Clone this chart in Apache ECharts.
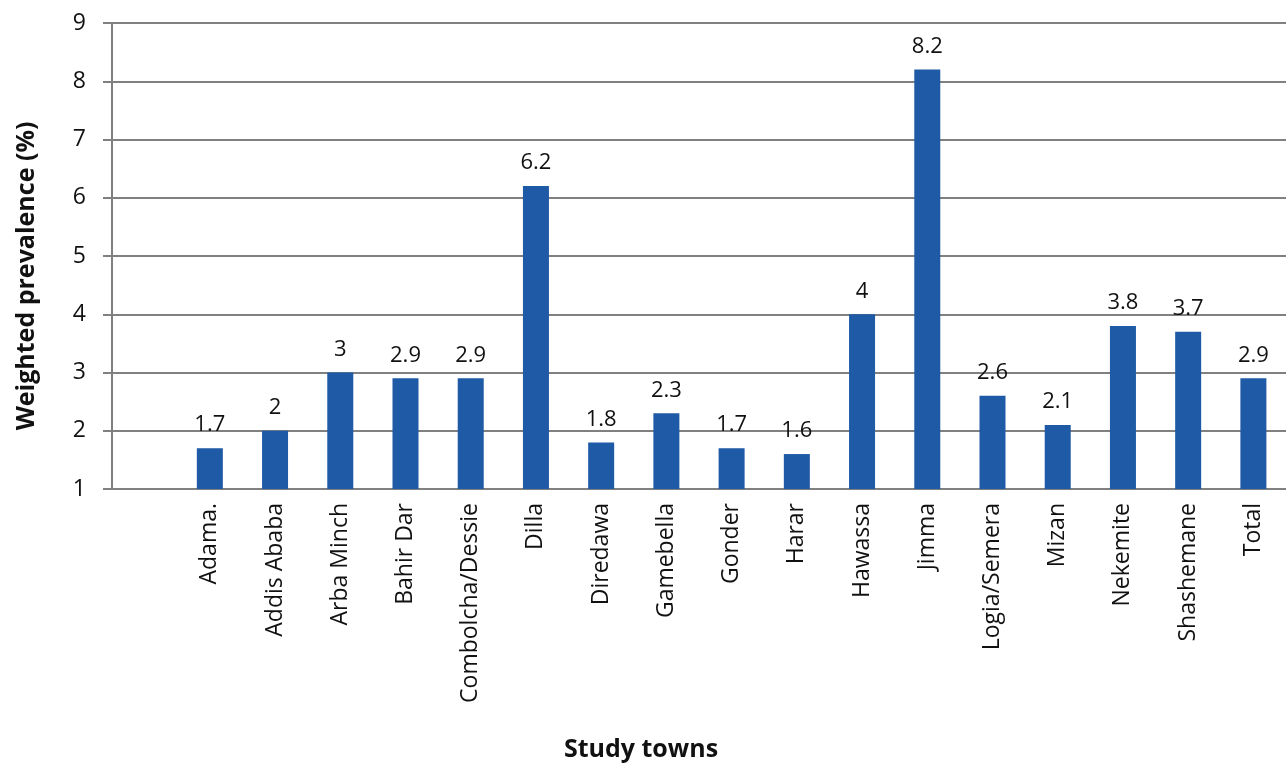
<!DOCTYPE html>
<html>
<head>
<meta charset="utf-8">
<script src="https://cdn.jsdelivr.net/npm/echarts@6/dist/echarts.min.js"></script>
<style>
    html, body { margin: 0; padding: 0; background: #fff; }
    #main { width: 1286px; height: 764px; }
</style>
</head>
<body>
<div id="main"></div>
<script>
// Study towns (first slot is left empty as in the original figure)
const towns = ["", "Adama.", "Addis Ababa", "Arba Minch", "Bahir Dar", "Combolcha/Dessie", "Dilla",
    "Diredawa", "Gamebella", "Gonder", "Harar", "Hawassa", "Jimma", "Logia/Semera", "Mizan",
    "Nekemite", "Shashemane", "Total"];
// Weighted prevalence (%)
const prevalence = [null, 1.7, 2, 3, 2.9, 2.9, 6.2, 1.8, 2.3, 1.7, 1.6, 4, 8.2, 2.6, 2.1, 3.8, 3.7, 2.9];

const fontFamily = "'Open Sans', sans-serif";
const chart = echarts.init(document.getElementById("main"));

const options = {
    animation: false,
    textStyle: { fontFamily: fontFamily },
    grid: {
        left: 112,
        right: 0,
        top: 23,
        bottom: 275,
        containLabel: false,
    },
    xAxis: {
        type: "category",
        data: towns,
        axisLine: { lineStyle: { color: "#808080", width: 2 } },
        axisTick: { show: false },
        axisLabel: {
            rotate: 90,
            interval: 0,
            margin: 14,
            color: "#111",
            fontSize: 23,
            fontFamily: fontFamily,
        },
    },
    yAxis: {
        type: "value",
        min: 1,
        max: 9,
        interval: 1,
        axisLine: { show: true, lineStyle: { color: "#808080", width: 2 } },
        axisTick: { show: true, length: 9, lineStyle: { color: "#808080", width: 2 } },
        axisLabel: { fontSize: 23, color: "#111", margin: 26, fontFamily: fontFamily },
        splitLine: { lineStyle: { color: "#808080", width: 2 } },
    },
    series: [
        {
            type: "bar",
            data: prevalence,
            barWidth: 26,
            itemStyle: { color: "#1e5aa5" },
            label: {
                show: true,
                position: "top",
                distance: 12,
                fontSize: 22,
                color: "#111",
                fontFamily: fontFamily,
            },
        },
    ],
    graphic: [
        {
            type: "text",
            x: 27,
            y: 276,
            rotation: Math.PI / 2,
            style: {
                text: "Weighted prevalence (%)",
                font: "bold 25px " + fontFamily,
                fill: "#111",
                align: "center",
                verticalAlign: "middle",
            },
        },
        {
            type: "text",
            x: 641,
            y: 750,
            style: {
                text: "Study towns",
                font: "bold 25px " + fontFamily,
                fill: "#111",
                align: "center",
                verticalAlign: "middle",
            },
        },
    ],
};

chart.setOption(options);
</script>
</body>
</html>
